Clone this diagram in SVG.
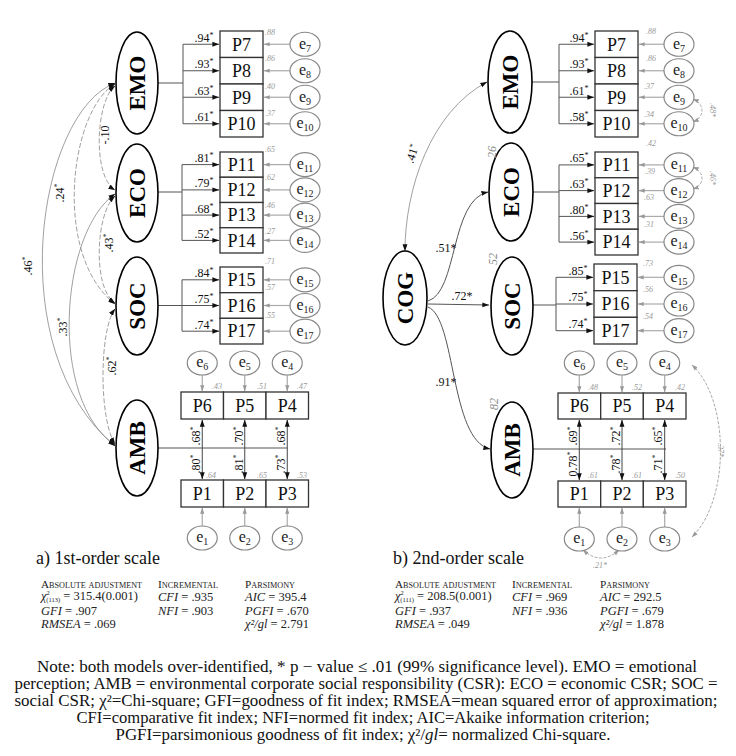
<svg xmlns="http://www.w3.org/2000/svg" width="736" height="756" viewBox="0 0 736 756">
<defs>
<marker id="ab" viewBox="0 0 10 10" refX="9.5" refY="5" markerWidth="7" markerHeight="7" markerUnits="userSpaceOnUse" orient="auto-start-reverse"><path d="M0,1.5 L10,5 L0,8.5 z" fill="#111"/></marker>
<marker id="ag" viewBox="0 0 10 10" refX="9.5" refY="5" markerWidth="6" markerHeight="6" markerUnits="userSpaceOnUse" orient="auto-start-reverse"><path d="M0,1.5 L10,5 L0,8.5 z" fill="#999"/></marker>
<style>
text{font-family:"Liberation Serif","Times New Roman","DejaVu Serif","Noto Serif",serif}
.lat{fill:#fff;stroke:#000;stroke-width:1.6}
.lt{font-weight:bold;font-size:23px;text-anchor:middle;fill:#000}
.box{fill:#fff;stroke:#333;stroke-width:1.3}
.bt{font-size:18px;text-anchor:middle;fill:#111}
.err{fill:#fff;stroke:#888;stroke-width:1.2}
.et{font-size:16px;text-anchor:middle;fill:#222}
.sub{font-size:10px}
.ld{font-size:12px;text-anchor:middle;fill:#111}
.st{font-size:8px}
.r2{font-size:8px;font-style:italic;text-anchor:middle;fill:#999}
.vr{font-size:12px;font-style:italic;text-anchor:middle;fill:#888}
.ln{stroke:#555;stroke-width:1;fill:none}
.la{stroke:#555;stroke-width:1;fill:none;marker-end:url(#ab)}
.dbl{stroke:#444;stroke-width:1;fill:none;marker-start:url(#ab);marker-end:url(#ab)}
.ea{stroke:#aaa;stroke-width:1.2;fill:none;marker-end:url(#ag)}
.cv{stroke:#888;stroke-width:0.8;fill:none;marker-start:url(#ab);marker-end:url(#ab)}
.cvd{stroke:#888;stroke-width:0.8;fill:none;stroke-dasharray:5 2;marker-start:url(#ab);marker-end:url(#ab)}
.ec{stroke:#aaa;stroke-width:1;fill:none;stroke-dasharray:3 1.5;marker-start:url(#ag);marker-end:url(#ag)}
.ecl{font-size:8px;font-style:italic;text-anchor:middle;fill:#999}
.cap{font-size:18px;fill:#111}
.sh{font-size:11px;font-variant:small-caps;fill:#222}
.sv{font-size:12.5px;fill:#222}
.note{font-size:16px;text-anchor:middle;fill:#111}
</style>
</defs>
<rect width="736" height="756" fill="#fff"/>

<!-- ================= CONNECTORS ================= -->
<g id="connectors">
  <!-- LEFT covariances -->
  <path class="cvd" d="M115,86 C96,100 92,176 115,190"/>
  <path class="cvd" d="M115,84 C70,110 52,255 115,304"/>
  <path class="cv" d="M115,83 C38,112 0,350 115,446"/>
  <path class="cvd" d="M115,196 C96,212 92,288 115,303"/>
  <path class="cv" d="M115,194 C60,232 48,400 115,445"/>
  <path class="cvd" d="M115,309 C99,330 99,420 115,444"/>

  <!-- LEFT EMO loadings -->
  <path class="ln" d="M158,83 H183 M183,44.25 V123.75"/>
  <path class="la" d="M183,44.25 H219"/>
  <path class="la" d="M183,70.75 H219"/>
  <path class="la" d="M183,97.25 H219"/>
  <path class="la" d="M183,123.75 H219"/>
  <!-- LEFT ECO loadings -->
  <path class="ln" d="M158,192 H182 M182,164.6 V240.4"/>
  <path class="la" d="M182,164.6 H219"/>
  <path class="la" d="M182,189.9 H219"/>
  <path class="la" d="M182,215.1 H219"/>
  <path class="la" d="M182,240.4 H219"/>
  <!-- LEFT SOC loadings -->
  <path class="ln" d="M158,305.5 H182 M182,279.8 V331.2"/>
  <path class="la" d="M182,279.8 H219"/>
  <path class="la" d="M182,305.5 H219"/>
  <path class="la" d="M182,331.2 H219"/>
  <!-- LEFT AMB -->
  <path class="ln" d="M158,448 H287.25"/>
  <path class="dbl" d="M202.25,420 V479"/>
  <path class="dbl" d="M244.75,420 V479"/>
  <path class="dbl" d="M287.25,420 V479"/>

  <!-- LEFT error arrows -->
  <path class="ea" d="M290,44.25 H264"/>
  <path class="ea" d="M290,70.75 H264"/>
  <path class="ea" d="M290,97.25 H264"/>
  <path class="ea" d="M290,123.75 H264"/>
  <path class="ea" d="M290,164.6 H264"/>
  <path class="ea" d="M290,189.9 H264"/>
  <path class="ea" d="M290,215.1 H264"/>
  <path class="ea" d="M290,240.4 H264"/>
  <path class="ea" d="M290,279.8 H264"/>
  <path class="ea" d="M290,305.5 H264"/>
  <path class="ea" d="M290,331.2 H264"/>
  <path class="ea" d="M202.25,375 V391"/>
  <path class="ea" d="M244.75,375 V391"/>
  <path class="ea" d="M287.25,375 V391"/>
  <path class="ea" d="M202.25,526 V508"/>
  <path class="ea" d="M244.75,526 V508"/>
  <path class="ea" d="M287.25,526 V508"/>

  <!-- RIGHT structural -->
  <path class="cv" d="M405,251 C405,190 430,112 487,82"/>
  <path class="la" d="M428,301 C458,292 450,200 488,192"/>
  <path class="la" d="M428,304 L489,305"/>
  <path class="la" d="M428,307 C456,318 450,440 490,449"/>

  <!-- RIGHT EMO loadings -->
  <path class="ln" d="M532,82 H559 M559,44.25 V123.75"/>
  <path class="la" d="M559,44.25 H594"/>
  <path class="la" d="M559,70.75 H594"/>
  <path class="la" d="M559,97.25 H594"/>
  <path class="la" d="M559,123.75 H594"/>
  <!-- RIGHT ECO loadings -->
  <path class="ln" d="M533,192 H559 M559,164.9 V242.1"/>
  <path class="la" d="M559,164.9 H594"/>
  <path class="la" d="M559,190.6 H594"/>
  <path class="la" d="M559,216.4 H594"/>
  <path class="la" d="M559,242.1 H594"/>
  <!-- RIGHT SOC loadings -->
  <path class="ln" d="M533,305 H556 M556,277.3 V330.7"/>
  <path class="la" d="M556,277.3 H593"/>
  <path class="la" d="M556,304 H593"/>
  <path class="la" d="M556,330.7 H593"/>
  <!-- RIGHT AMB -->
  <path class="ln" d="M533,449 H666"/>
  <path class="dbl" d="M579.3,420 V480"/>
  <path class="dbl" d="M622,420 V480"/>
  <path class="dbl" d="M664.7,420 V480"/>

  <!-- RIGHT error arrows -->
  <path class="ea" d="M664,44.25 H639"/>
  <path class="ea" d="M664,70.75 H639"/>
  <path class="ea" d="M664,97.25 H639"/>
  <path class="ea" d="M664,123.75 H639"/>
  <path class="ea" d="M664,164.9 H639"/>
  <path class="ea" d="M664,190.6 H639"/>
  <path class="ea" d="M664,216.4 H639"/>
  <path class="ea" d="M664,242.1 H639"/>
  <path class="ea" d="M664,277.3 H638"/>
  <path class="ea" d="M664,304 H638"/>
  <path class="ea" d="M664,330.7 H638"/>
  <path class="ea" d="M579.3,375 V392"/>
  <path class="ea" d="M622,375 V392"/>
  <path class="ea" d="M664.7,375 V392"/>
  <path class="ea" d="M579.3,527 V508"/>
  <path class="ea" d="M622,527 V508"/>
  <path class="ea" d="M664.7,527 V508"/>

  <!-- RIGHT error covariances -->
  <path class="ec" d="M693,99 C705,104 705,117 693,122"/>
  <path class="ec" d="M693,167 C705,172 705,185 693,189"/>
  <path class="ec" d="M692,365 C730,400 730,500 692,537"/>
  <path class="ec" d="M583,550 Q601,566 619,550"/>

  <!-- LEFT covariance labels -->
  <text class="ld" transform="translate(109,135) rotate(-90)">-.10</text>
  <text class="ld" transform="translate(64,193) rotate(-90)">.24<tspan class="st" dy="-4">*</tspan></text>
  <text class="ld" transform="translate(32,266) rotate(-90)">.46<tspan class="st" dy="-4">*</tspan></text>
  <text class="ld" transform="translate(113,243) rotate(-90)">.43<tspan class="st" dy="-4">*</tspan></text>
  <text class="ld" transform="translate(67,327) rotate(-90)">.33<tspan class="st" dy="-4">*</tspan></text>
  <text class="ld" transform="translate(116,366) rotate(-90)">.62<tspan class="st" dy="-4">*</tspan></text>

  <!-- LEFT loading labels -->
  <text class="ld" x="204" y="41.5">.94<tspan class="st" dy="-4">*</tspan></text>
  <text class="ld" x="204" y="68">.93<tspan class="st" dy="-4">*</tspan></text>
  <text class="ld" x="204" y="94.5">.63<tspan class="st" dy="-4">*</tspan></text>
  <text class="ld" x="204" y="121">.61<tspan class="st" dy="-4">*</tspan></text>
  <text class="ld" x="204" y="162">.81<tspan class="st" dy="-4">*</tspan></text>
  <text class="ld" x="204" y="187">.79<tspan class="st" dy="-4">*</tspan></text>
  <text class="ld" x="204" y="212.5">.68<tspan class="st" dy="-4">*</tspan></text>
  <text class="ld" x="204" y="237.5">.52<tspan class="st" dy="-4">*</tspan></text>
  <text class="ld" x="204" y="277">.84<tspan class="st" dy="-4">*</tspan></text>
  <text class="ld" x="204" y="302.5">.75<tspan class="st" dy="-4">*</tspan></text>
  <text class="ld" x="204" y="328.5">.74<tspan class="st" dy="-4">*</tspan></text>
  <text class="ld" transform="translate(200,436) rotate(-90)">.68<tspan class="st" dy="-4">*</tspan></text>
  <text class="ld" transform="translate(200,464) rotate(-90)">.80<tspan class="st" dy="-4">*</tspan></text>
  <text class="ld" transform="translate(242.5,436) rotate(-90)">.70<tspan class="st" dy="-4">*</tspan></text>
  <text class="ld" transform="translate(242.5,464) rotate(-90)">.81<tspan class="st" dy="-4">*</tspan></text>
  <text class="ld" transform="translate(285,436) rotate(-90)">.68<tspan class="st" dy="-4">*</tspan></text>
  <text class="ld" transform="translate(285,464) rotate(-90)">.73<tspan class="st" dy="-4">*</tspan></text>

  <!-- RIGHT structural labels -->
  <text class="ld" transform="translate(416,155) rotate(-72)">.41<tspan class="st" dy="-4">*</tspan></text>
  <text class="ld" x="446" y="252">.51*</text>
  <text class="ld" x="462" y="300">.72*</text>
  <text class="ld" x="446" y="386">.91*</text>

  <!-- RIGHT loading labels -->
  <text class="ld" x="579" y="41.5">.94<tspan class="st" dy="-4">*</tspan></text>
  <text class="ld" x="579" y="68">.93<tspan class="st" dy="-4">*</tspan></text>
  <text class="ld" x="579" y="94.5">.61<tspan class="st" dy="-4">*</tspan></text>
  <text class="ld" x="579" y="121">.58<tspan class="st" dy="-4">*</tspan></text>
  <text class="ld" x="579" y="162">.65<tspan class="st" dy="-4">*</tspan></text>
  <text class="ld" x="579" y="188">.63<tspan class="st" dy="-4">*</tspan></text>
  <text class="ld" x="579" y="213.5">.80<tspan class="st" dy="-4">*</tspan></text>
  <text class="ld" x="579" y="239.5">.56<tspan class="st" dy="-4">*</tspan></text>
  <text class="ld" x="578" y="274.5">.85<tspan class="st" dy="-4">*</tspan></text>
  <text class="ld" x="578" y="301">.75<tspan class="st" dy="-4">*</tspan></text>
  <text class="ld" x="578" y="328">.74<tspan class="st" dy="-4">*</tspan></text>
  <text class="ld" transform="translate(577,436) rotate(-90)">.69<tspan class="st" dy="-4">*</tspan></text>
  <text class="ld" transform="translate(577,464) rotate(-90)">0.78<tspan class="st" dy="-4">*</tspan></text>
  <text class="ld" transform="translate(619.5,436) rotate(-90)">.72<tspan class="st" dy="-4">*</tspan></text>
  <text class="ld" transform="translate(619.5,464) rotate(-90)">.78<tspan class="st" dy="-4">*</tspan></text>
  <text class="ld" transform="translate(662,436) rotate(-90)">.65<tspan class="st" dy="-4">*</tspan></text>
  <text class="ld" transform="translate(662,464) rotate(-90)">.71<tspan class="st" dy="-4">*</tspan></text>

  <!-- RIGHT error covariance labels -->
  <text class="ecl" transform="translate(710,110) rotate(90)">.48*</text>
  <text class="ecl" transform="translate(710,178) rotate(90)">.46*</text>
  <text class="ecl" transform="translate(718,450) rotate(90)">.37*</text>
  <text class="ecl" x="600" y="568">.21*</text>
</g>

<!-- ================= LEFT NODES ================= -->
<g id="L-EMO"><ellipse class="lat" cx="137" cy="83" rx="21" ry="51"/><text class="lt" transform="translate(145,83) rotate(-90)">EMO</text></g>
<g id="L-ECO"><ellipse class="lat" cx="137" cy="193" rx="21" ry="49"/><text class="lt" transform="translate(145,193) rotate(-90)">ECO</text></g>
<g id="L-SOC"><ellipse class="lat" cx="137" cy="306" rx="21" ry="49"/><text class="lt" transform="translate(145,306) rotate(-90)">SOC</text></g>
<g id="L-AMB"><ellipse class="lat" cx="137" cy="448" rx="21" ry="48"/><text class="lt" transform="translate(145,448) rotate(-90)">AMB</text></g>

<g id="L-P7"><rect class="box" x="220" y="31" width="43" height="26.5"/><text class="bt" x="241.5" y="50.5">P7</text><text class="r2" x="270" y="35">.88</text></g>
<g id="L-P8"><rect class="box" x="220" y="57.5" width="43" height="26.5"/><text class="bt" x="241.5" y="77">P8</text><text class="r2" x="270" y="61">.86</text></g>
<g id="L-P9"><rect class="box" x="220" y="84" width="43" height="26.5"/><text class="bt" x="241.5" y="103.5">P9</text><text class="r2" x="270" y="89">.40</text></g>
<g id="L-P10"><rect class="box" x="220" y="110.5" width="43" height="26.5"/><text class="bt" x="241.5" y="130">P10</text><text class="r2" x="270" y="116">.37</text></g>
<g id="L-P11"><rect class="box" x="220" y="152" width="43" height="25.25"/><text class="bt" x="241.5" y="170.8">P11</text><text class="r2" x="270" y="152">.65</text></g>
<g id="L-P12"><rect class="box" x="220" y="177.25" width="43" height="25.25"/><text class="bt" x="241.5" y="196">P12</text><text class="r2" x="270" y="180">.62</text></g>
<g id="L-P13"><rect class="box" x="220" y="202.5" width="43" height="25.25"/><text class="bt" x="241.5" y="221.3">P13</text><text class="r2" x="270" y="208">.46</text></g>
<g id="L-P14"><rect class="box" x="220" y="227.75" width="43" height="25.25"/><text class="bt" x="241.5" y="246.6">P14</text><text class="r2" x="270" y="234">.27</text></g>
<g id="L-P15"><rect class="box" x="220" y="267" width="43" height="25.7"/><text class="bt" x="241.5" y="286">P15</text><text class="r2" x="270" y="264">.71</text></g>
<g id="L-P16"><rect class="box" x="220" y="292.7" width="43" height="25.7"/><text class="bt" x="241.5" y="311.7">P16</text><text class="r2" x="270" y="290">.57</text></g>
<g id="L-P17"><rect class="box" x="220" y="318.3" width="43" height="25.7"/><text class="bt" x="241.5" y="337.4">P17</text><text class="r2" x="270" y="318">.55</text></g>

<g id="L-P6"><rect class="box" x="181" y="392" width="42.5" height="27"/><text class="bt" x="202.25" y="411.5">P6</text><text class="r2" x="217" y="389">.43</text></g>
<g id="L-P5"><rect class="box" x="223.5" y="392" width="42.5" height="27"/><text class="bt" x="244.75" y="411.5">P5</text><text class="r2" x="262" y="389">.51</text></g>
<g id="L-P4"><rect class="box" x="266" y="392" width="42.5" height="27"/><text class="bt" x="287.25" y="411.5">P4</text><text class="r2" x="302" y="389">.47</text></g>
<g id="L-P1"><rect class="box" x="181" y="480" width="42.5" height="27"/><text class="bt" x="202.25" y="499.5">P1</text><text class="r2" x="211" y="478">.64</text></g>
<g id="L-P2"><rect class="box" x="223.5" y="480" width="42.5" height="27"/><text class="bt" x="244.75" y="499.5">P2</text><text class="r2" x="262" y="478">.65</text></g>
<g id="L-P3"><rect class="box" x="266" y="480" width="42.5" height="27"/><text class="bt" x="287.25" y="499.5">P3</text><text class="r2" x="302" y="478">.53</text></g>

<g id="L-e7"><ellipse class="err" cx="305" cy="44.25" rx="15" ry="12"/><text class="et" x="305" y="48.5">e<tspan class="sub" dy="3">7</tspan></text></g>
<g id="L-e8"><ellipse class="err" cx="305" cy="70.75" rx="15" ry="12"/><text class="et" x="305" y="75">e<tspan class="sub" dy="3">8</tspan></text></g>
<g id="L-e9"><ellipse class="err" cx="305" cy="97.25" rx="15" ry="12"/><text class="et" x="305" y="101.5">e<tspan class="sub" dy="3">9</tspan></text></g>
<g id="L-e10"><ellipse class="err" cx="305" cy="123.75" rx="15" ry="12"/><text class="et" x="305" y="128">e<tspan class="sub" dy="3">10</tspan></text></g>
<g id="L-e11"><ellipse class="err" cx="305" cy="164.6" rx="15" ry="12"/><text class="et" x="305" y="168.9">e<tspan class="sub" dy="3">11</tspan></text></g>
<g id="L-e12"><ellipse class="err" cx="305" cy="189.9" rx="15" ry="12"/><text class="et" x="305" y="194.2">e<tspan class="sub" dy="3">12</tspan></text></g>
<g id="L-e13"><ellipse class="err" cx="305" cy="215.1" rx="15" ry="12"/><text class="et" x="305" y="219.4">e<tspan class="sub" dy="3">13</tspan></text></g>
<g id="L-e14"><ellipse class="err" cx="305" cy="240.4" rx="15" ry="12"/><text class="et" x="305" y="244.7">e<tspan class="sub" dy="3">14</tspan></text></g>
<g id="L-e15"><ellipse class="err" cx="305" cy="279.8" rx="15" ry="12"/><text class="et" x="305" y="284.1">e<tspan class="sub" dy="3">15</tspan></text></g>
<g id="L-e16"><ellipse class="err" cx="305" cy="305.5" rx="15" ry="12"/><text class="et" x="305" y="309.8">e<tspan class="sub" dy="3">16</tspan></text></g>
<g id="L-e17"><ellipse class="err" cx="305" cy="331.2" rx="15" ry="12"/><text class="et" x="305" y="335.5">e<tspan class="sub" dy="3">17</tspan></text></g>
<g id="L-e6"><ellipse class="err" cx="202.25" cy="363" rx="15" ry="12"/><text class="et" x="202.25" y="367.3">e<tspan class="sub" dy="3">6</tspan></text></g>
<g id="L-e5"><ellipse class="err" cx="244.75" cy="363" rx="15" ry="12"/><text class="et" x="244.75" y="367.3">e<tspan class="sub" dy="3">5</tspan></text></g>
<g id="L-e4"><ellipse class="err" cx="287.25" cy="363" rx="15" ry="12"/><text class="et" x="287.25" y="367.3">e<tspan class="sub" dy="3">4</tspan></text></g>
<g id="L-e1"><ellipse class="err" cx="202.25" cy="538" rx="15" ry="12"/><text class="et" x="202.25" y="542.3">e<tspan class="sub" dy="3">1</tspan></text></g>
<g id="L-e2"><ellipse class="err" cx="244.75" cy="538" rx="15" ry="12"/><text class="et" x="244.75" y="542.3">e<tspan class="sub" dy="3">2</tspan></text></g>
<g id="L-e3"><ellipse class="err" cx="287.25" cy="538" rx="15" ry="12"/><text class="et" x="287.25" y="542.3">e<tspan class="sub" dy="3">3</tspan></text></g>

<!-- ================= RIGHT NODES ================= -->
<g id="R-COG"><ellipse class="lat" cx="405" cy="298" rx="22" ry="47"/><text class="lt" transform="translate(413,298) rotate(-90)">COG</text></g>
<g id="R-EMO"><ellipse class="lat" cx="510" cy="82" rx="22" ry="51"/><text class="lt" transform="translate(518,82) rotate(-90)">EMO</text></g>
<g id="R-ECO"><ellipse class="lat" cx="511" cy="192" rx="22" ry="49"/><text class="lt" transform="translate(519,192) rotate(-90)">ECO</text><text class="vr" transform="translate(496,152) rotate(-90)">26</text></g>
<g id="R-SOC"><ellipse class="lat" cx="512" cy="306" rx="21" ry="49"/><text class="lt" transform="translate(520,306) rotate(-90)">SOC</text><text class="vr" transform="translate(497,259) rotate(-90)">52</text></g>
<g id="R-AMB"><ellipse class="lat" cx="512" cy="450" rx="21" ry="48"/><text class="lt" transform="translate(520,450) rotate(-90)">AMB</text><text class="vr" transform="translate(498,404) rotate(-90)">82</text></g>

<g id="R-P7"><rect class="box" x="595" y="31" width="43" height="26.5"/><text class="bt" x="616.5" y="50.5">P7</text><text class="r2" x="651" y="34">.88</text></g>
<g id="R-P8"><rect class="box" x="595" y="57.5" width="43" height="26.5"/><text class="bt" x="616.5" y="77">P8</text><text class="r2" x="651" y="61">.86</text></g>
<g id="R-P9"><rect class="box" x="595" y="84" width="43" height="26.5"/><text class="bt" x="616.5" y="103.5">P9</text><text class="r2" x="649" y="89">.37</text></g>
<g id="R-P10"><rect class="box" x="595" y="110.5" width="43" height="26.5"/><text class="bt" x="616.5" y="130">P10</text><text class="r2" x="649" y="117">.34</text></g>
<g id="R-P11"><rect class="box" x="595" y="152" width="43" height="25.75"/><text class="bt" x="616.5" y="171">P11</text><text class="r2" x="651" y="146">.42</text></g>
<g id="R-P12"><rect class="box" x="595" y="177.75" width="43" height="25.75"/><text class="bt" x="616.5" y="196.7">P12</text><text class="r2" x="650" y="174">.39</text></g>
<g id="R-P13"><rect class="box" x="595" y="203.5" width="43" height="25.75"/><text class="bt" x="616.5" y="222.5">P13</text><text class="r2" x="649" y="200">.63</text></g>
<g id="R-P14"><rect class="box" x="595" y="229.25" width="43" height="25.75"/><text class="bt" x="616.5" y="248.2">P14</text><text class="r2" x="649" y="227">.31</text></g>
<g id="R-P15"><rect class="box" x="594" y="264" width="43" height="26.7"/><text class="bt" x="615.5" y="283.5">P15</text><text class="r2" x="648" y="266">.73</text></g>
<g id="R-P16"><rect class="box" x="594" y="290.7" width="43" height="26.7"/><text class="bt" x="615.5" y="310.2">P16</text><text class="r2" x="648" y="292">.56</text></g>
<g id="R-P17"><rect class="box" x="594" y="317.3" width="43" height="26.7"/><text class="bt" x="615.5" y="336.8">P17</text><text class="r2" x="648" y="319">.54</text></g>

<g id="R-P6"><rect class="box" x="558" y="393" width="42.7" height="26"/><text class="bt" x="579.3" y="412">P6</text><text class="r2" x="593" y="390">.48</text></g>
<g id="R-P5"><rect class="box" x="600.7" y="393" width="42.7" height="26"/><text class="bt" x="622" y="412">P5</text><text class="r2" x="637" y="390">.52</text></g>
<g id="R-P4"><rect class="box" x="643.3" y="393" width="42.7" height="26"/><text class="bt" x="664.7" y="412">P4</text><text class="r2" x="680" y="390">.42</text></g>
<g id="R-P1"><rect class="box" x="558" y="481" width="42.7" height="26"/><text class="bt" x="579.3" y="500">P1</text><text class="r2" x="593" y="478">.61</text></g>
<g id="R-P2"><rect class="box" x="600.7" y="481" width="42.7" height="26"/><text class="bt" x="622" y="500">P2</text><text class="r2" x="637" y="478">.61</text></g>
<g id="R-P3"><rect class="box" x="643.3" y="481" width="42.7" height="26"/><text class="bt" x="664.7" y="500">P3</text><text class="r2" x="680" y="478">.50</text></g>

<g id="R-e7"><ellipse class="err" cx="679" cy="44.25" rx="15" ry="12"/><text class="et" x="679" y="48.5">e<tspan class="sub" dy="3">7</tspan></text></g>
<g id="R-e8"><ellipse class="err" cx="679" cy="70.75" rx="15" ry="12"/><text class="et" x="679" y="75">e<tspan class="sub" dy="3">8</tspan></text></g>
<g id="R-e9"><ellipse class="err" cx="679" cy="97.25" rx="15" ry="12"/><text class="et" x="679" y="101.5">e<tspan class="sub" dy="3">9</tspan></text></g>
<g id="R-e10"><ellipse class="err" cx="679" cy="123.75" rx="15" ry="12"/><text class="et" x="679" y="128">e<tspan class="sub" dy="3">10</tspan></text></g>
<g id="R-e11"><ellipse class="err" cx="679" cy="164.9" rx="15" ry="12"/><text class="et" x="679" y="169.2">e<tspan class="sub" dy="3">11</tspan></text></g>
<g id="R-e12"><ellipse class="err" cx="679" cy="190.6" rx="15" ry="12"/><text class="et" x="679" y="194.9">e<tspan class="sub" dy="3">12</tspan></text></g>
<g id="R-e13"><ellipse class="err" cx="679" cy="216.4" rx="15" ry="12"/><text class="et" x="679" y="220.7">e<tspan class="sub" dy="3">13</tspan></text></g>
<g id="R-e14"><ellipse class="err" cx="679" cy="242.1" rx="15" ry="12"/><text class="et" x="679" y="246.4">e<tspan class="sub" dy="3">14</tspan></text></g>
<g id="R-e15"><ellipse class="err" cx="679" cy="277.3" rx="15" ry="12"/><text class="et" x="679" y="281.6">e<tspan class="sub" dy="3">15</tspan></text></g>
<g id="R-e16"><ellipse class="err" cx="679" cy="304" rx="15" ry="12"/><text class="et" x="679" y="308.3">e<tspan class="sub" dy="3">16</tspan></text></g>
<g id="R-e17"><ellipse class="err" cx="679" cy="330.7" rx="15" ry="12"/><text class="et" x="679" y="335">e<tspan class="sub" dy="3">17</tspan></text></g>
<g id="R-e6"><ellipse class="err" cx="579.3" cy="363" rx="15" ry="12"/><text class="et" x="579.3" y="367.3">e<tspan class="sub" dy="3">6</tspan></text></g>
<g id="R-e5"><ellipse class="err" cx="622" cy="363" rx="15" ry="12"/><text class="et" x="622" y="367.3">e<tspan class="sub" dy="3">5</tspan></text></g>
<g id="R-e4"><ellipse class="err" cx="664.7" cy="363" rx="15" ry="12"/><text class="et" x="664.7" y="367.3">e<tspan class="sub" dy="3">4</tspan></text></g>
<g id="R-e1"><ellipse class="err" cx="579.3" cy="539" rx="15" ry="12"/><text class="et" x="579.3" y="543.3">e<tspan class="sub" dy="3">1</tspan></text></g>
<g id="R-e2"><ellipse class="err" cx="622" cy="539" rx="15" ry="12"/><text class="et" x="622" y="543.3">e<tspan class="sub" dy="3">2</tspan></text></g>
<g id="R-e3"><ellipse class="err" cx="664.7" cy="539" rx="15" ry="12"/><text class="et" x="664.7" y="543.3">e<tspan class="sub" dy="3">3</tspan></text></g>

<!-- ================= CAPTIONS & STATS ================= -->
<g id="caption-a">
  <text class="cap" x="36" y="564">a) 1st-order scale</text>
  <text class="sh" x="41" y="588" textLength="101" lengthAdjust="spacingAndGlyphs">Absolute adjustment</text>
  <text class="sv" x="41" y="600"><tspan font-style="italic">χ</tspan><tspan font-size="6.5" dy="-5">2</tspan><tspan font-size="6.5" dx="-3.5" dy="7">(113)</tspan><tspan dy="-2"> = 315.4(0.001)</tspan></text>
  <text class="sv" x="41" y="615"><tspan font-style="italic">GFI</tspan>  =  .907</text>
  <text class="sv" x="41" y="628"><tspan font-style="italic">RMSEA</tspan>  =  .069</text>
  <text class="sh" x="158" y="588" textLength="60" lengthAdjust="spacingAndGlyphs">Incremental</text>
  <text class="sv" x="158" y="601"><tspan font-style="italic">CFI</tspan>  =  .935</text>
  <text class="sv" x="158" y="615"><tspan font-style="italic">NFI</tspan>  =  .903</text>
  <text class="sh" x="245" y="588" textLength="50" lengthAdjust="spacingAndGlyphs">Parsimony</text>
  <text class="sv" x="245" y="601"><tspan font-style="italic">AIC</tspan>  = 395.4</text>
  <text class="sv" x="245" y="615"><tspan font-style="italic">PGFI</tspan>  =  .670</text>
  <text class="sv" x="245" y="628"><tspan font-style="italic">χ²/gl</tspan>  = 2.791</text>
</g>
<g id="caption-b">
  <text class="cap" x="393" y="564">b) 2nd-order scale</text>
  <text class="sh" x="395" y="588" textLength="101" lengthAdjust="spacingAndGlyphs">Absolute adjustment</text>
  <text class="sv" x="395" y="600"><tspan font-style="italic">χ</tspan><tspan font-size="6.5" dy="-5">2</tspan><tspan font-size="6.5" dx="-3.5" dy="7">(111)</tspan><tspan dy="-2"> = 208.5(0.001)</tspan></text>
  <text class="sv" x="395" y="615"><tspan font-style="italic">GFI</tspan>  =  .937</text>
  <text class="sv" x="395" y="628"><tspan font-style="italic">RMSEA</tspan>  =  .049</text>
  <text class="sh" x="512" y="588" textLength="60" lengthAdjust="spacingAndGlyphs">Incremental</text>
  <text class="sv" x="512" y="601"><tspan font-style="italic">CFI</tspan>  =  .969</text>
  <text class="sv" x="512" y="615"><tspan font-style="italic">NFI</tspan>  =  .936</text>
  <text class="sh" x="600" y="588" textLength="50" lengthAdjust="spacingAndGlyphs">Parsimony</text>
  <text class="sv" x="600" y="601"><tspan font-style="italic">AIC</tspan>  = 292.5</text>
  <text class="sv" x="600" y="615"><tspan font-style="italic">PGFI</tspan>  =  .679</text>
  <text class="sv" x="600" y="628"><tspan font-style="italic">χ²/gl</tspan>  = 1.878</text>
</g>

<g id="note">
  <text class="note" x="367" y="672" textLength="660" lengthAdjust="spacingAndGlyphs">Note: both models over-identified, * p − value  ≤  .01 (99% significance level). EMO = emotional</text>
  <text class="note" x="366" y="689" textLength="703" lengthAdjust="spacingAndGlyphs">perception; AMB = environmental corporate social responsibility (CSR): ECO = economic CSR; SOC =</text>
  <text class="note" x="366" y="706" textLength="703" lengthAdjust="spacingAndGlyphs">social CSR; χ²=Chi-square; GFI=goodness of fit index; RMSEA=mean squared error of approximation;</text>
  <text class="note" x="363" y="723" textLength="573" lengthAdjust="spacingAndGlyphs">CFI=comparative fit index; NFI=normed fit index; AIC=Akaike information criterion;</text>
  <text class="note" x="363" y="740" textLength="495" lengthAdjust="spacingAndGlyphs">PGFI=parsimonious goodness of fit index; χ²/<tspan font-style="italic">gl</tspan>= normalized Chi-square.</text>
</g>
</svg>
